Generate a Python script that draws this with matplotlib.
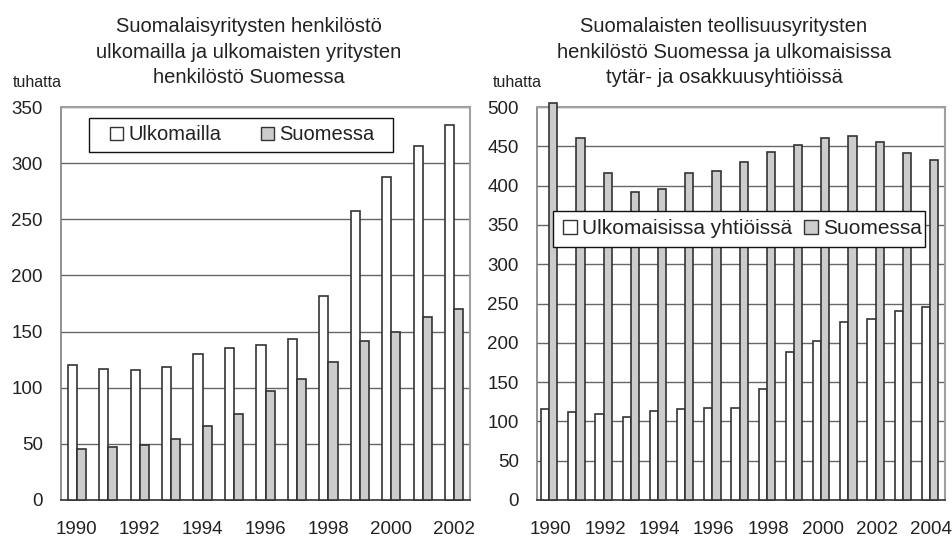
import numpy as np
import matplotlib.pyplot as plt
from matplotlib.patches import Patch, Rectangle

plt.rcParams['font.family'] = ['Liberation Sans', 'DejaVu Sans']

# Left chart: staff abroad / foreign firms' staff in Finland (thousands)
years_l = list(range(1990, 2003))
ulkomailla = [120, 117, 115.5, 118.5, 130, 135, 138, 143.5, 182, 257, 288, 315.5, 334]
suomessa_l = [45, 47.5, 49, 54.5, 65.5, 77, 97.5, 107.5, 123, 142, 150, 163, 170]

# Right chart: industrial firms' staff in Finland and in foreign subsidiaries
years_r = list(range(1990, 2005))
ulkomaisissa = [116, 111.5, 109.5, 105.5, 113.5, 116, 117.5, 117.5, 141, 188.5, 202.5, 226, 230.5, 240, 246]
suomessa_r = [505, 461, 416, 392, 396, 416, 418, 430, 443, 452, 461, 463, 455, 442, 432]

titles_l = ["Suomalaisyritysten henkilöstö",
            "ulkomailla ja ulkomaisten yritysten",
            "henkilöstö Suomessa"]
titles_r = ["Suomalaisten teollisuusyritysten",
            "henkilöstö Suomessa ja ulkomaisissa",
            "tytär- ja osakkuusyhtiöissä"]

W, H = 953, 538
GRAY = '#cccccc'
EDGE = '#333333'


def fx(px):
    return px / W


def fy(py):
    return 1 - py / H


fig = plt.figure(figsize=(W / 100, H / 100), dpi=100)
ax1 = fig.add_axes([fx(61), fy(500), 409 / W, 393 / H])
ax2 = fig.add_axes([fx(537), fy(500), 408 / W, 393 / H])


def draw(ax, years, a, b, w, off, ymax):
    x = np.arange(len(years))
    ax.bar(x + off - w / 2, a, w, color='white', edgecolor=EDGE, linewidth=1.2,
           zorder=3, clip_on=False)
    ax.bar(x + off + w / 2, b, w, color=GRAY, edgecolor=EDGE, linewidth=1.2,
           zorder=3, clip_on=False)
    ax.set_xlim(-0.5, len(years) - 0.5)
    ax.set_ylim(0, ymax)
    ax.set_yticks(np.arange(0, ymax + 1, 50))
    ax.set_xticks(x[::2])
    ax.set_xticklabels([str(y) for y in years[::2]])
    ax.yaxis.grid(True, color='#666666', linewidth=1.0, zorder=0)
    ax.set_axisbelow(True)
    ax.tick_params(axis='both', length=0, labelsize=13.5, colors='#222222')
    ax.tick_params(axis='x', pad=15)
    ax.tick_params(axis='y', pad=13)
    for s in ['top', 'right']:
        ax.spines[s].set_color('#a0a0a0')
        ax.spines[s].set_linewidth(1.5)
    ax.spines['left'].set_color('#808080')
    ax.spines['left'].set_linewidth(1.2)
    ax.spines['bottom'].set_color('#333333')
    ax.spines['bottom'].set_linewidth(1.2)


draw(ax1, years_l, ulkomailla, suomessa_l, 0.29, 0.0, 350)
draw(ax2, years_r, ulkomaisissa, suomessa_r, 0.30, -0.05, 500)

# titles
for i, line in enumerate(titles_l):
    fig.text(fx(249), fy(32 + 25.5 * i), line, ha='center', va='baseline',
             fontsize=14.5, color='#222222')
for i, line in enumerate(titles_r):
    fig.text(fx(724), fy(32 + 25.5 * i), line, ha='center', va='baseline',
             fontsize=14.5, color='#222222')

fig.text(fx(13), fy(87), 'tuhatta', ha='left', va='baseline', fontsize=11.5, color='#222222')
fig.text(fx(493), fy(87), 'tuhatta', ha='left', va='baseline', fontsize=11.5, color='#222222')

# legends
def legend(ax, labels, box, anchor, fs, colsp):
    handles = [Patch(facecolor='white', edgecolor=EDGE, linewidth=1.0),
               Patch(facecolor=GRAY, edgecolor=EDGE, linewidth=1.0)]
    x0, y0, x1, y1 = box
    ax.add_patch(Rectangle((fx(x0), fy(y1)), (x1 - x0) / W, (y1 - y0) / H,
                           transform=fig.transFigure, facecolor='white',
                           edgecolor='#111111', linewidth=1.0, zorder=4, clip_on=False))
    lg = ax.legend(handles, labels, ncol=2, frameon=False, loc='center left',
                   bbox_to_anchor=anchor, bbox_transform=fig.transFigure,
                   fontsize=fs, handlelength=0.65, handleheight=0.65,
                   handletextpad=0.25, columnspacing=colsp, borderpad=0,
                   borderaxespad=0)
    lg.set_zorder(5)
    for t in lg.get_texts():
        t.set_color('#222222')


legend(ax1, ['Ulkomailla', 'Suomessa'], (89, 118, 393, 152),
       (fx(110), fy(135)), 14.5, 2.0)
legend(ax2, ['Ulkomaisissa yhtiöissä', 'Suomessa'], (553, 211, 925, 247),
       (fx(563), fy(229)), 15, 0.6)

fig.savefig('out.png', dpi=100)
